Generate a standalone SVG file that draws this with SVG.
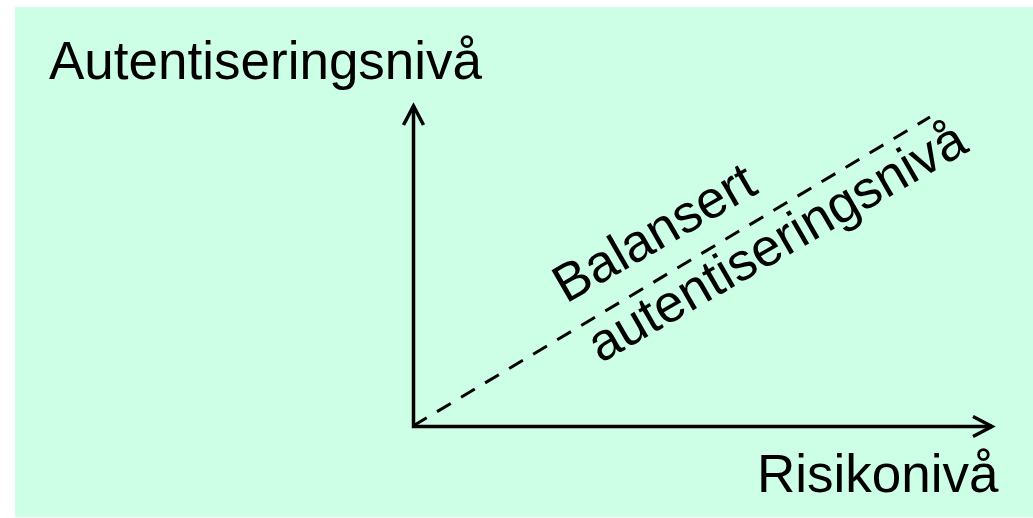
<svg xmlns="http://www.w3.org/2000/svg" width="1033" height="518" viewBox="0 0 1033 518">
<style>
.lbl{font-family:"Liberation Sans",Arial,sans-serif;font-size:53px;fill:#000}
.axis{stroke:#000;stroke-width:3.5;fill:none}
.dash{stroke:#000;stroke-width:3;fill:none;stroke-dasharray:16 12}
</style>
<defs>
<marker id="arr" markerWidth="26" markerHeight="26" refX="21" refY="13" orient="auto" markerUnits="userSpaceOnUse">
<path d="M2,3 L21,13 L2,23" fill="none" stroke="#000" stroke-width="3.5"/>
</marker>
</defs>
<rect id="background" x="15" y="7" width="1018" height="510" fill="#ccffe6"/>
<g id="y-axis-label"><text class="lbl" x="49" y="79">Autentiseringsnivå</text></g>
<g id="x-axis-label"><text class="lbl" x="757" y="492">Risikonivå</text></g>
<g id="connectors">
<line class="axis" x1="413.5" y1="428" x2="413.5" y2="106" marker-end="url(#arr)"/>
<line class="axis" x1="412" y1="426.5" x2="992" y2="426.5" marker-end="url(#arr)"/>
<line class="dash" x1="413" y1="426" x2="930" y2="117"/>
</g>
<g id="balance-label" transform="translate(566,304) rotate(-30)">
<text class="lbl" x="0" y="0">Balansert</text>
<text class="lbl" x="0" y="69">autentiseringsnivå</text>
</g>
</svg>
